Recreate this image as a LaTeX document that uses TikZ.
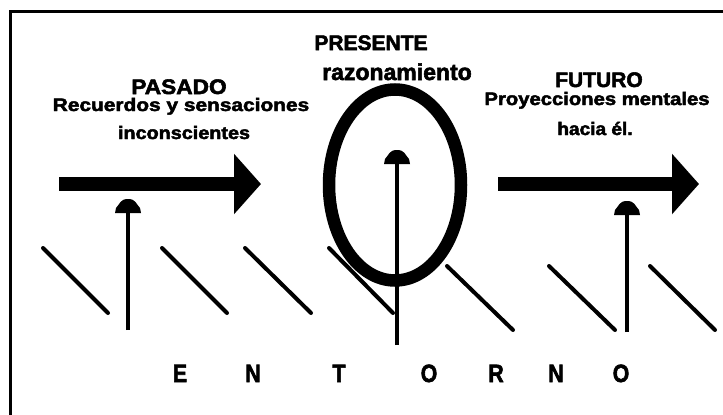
\documentclass[tikz,border=0pt]{standalone}
\usepackage{fontspec}
\setmainfont{Liberation Sans}[BoldFeatures={FakeBold=2.5}]
\usetikzlibrary{shapes.geometric,arrows.meta}
\begin{document}
\begin{tikzpicture}[x=1pt,y=-1pt,
  head/.style={font=\bfseries\fontsize{21}{21}\selectfont, inner sep=0, anchor=base},
  sub/.style={font=\bfseries\fontsize{18}{18}\selectfont, inner sep=0, anchor=base},
  ent/.style={font=\bfseries\fontsize{25}{25}\selectfont, inner sep=0, anchor=base},
  bigarrow/.style={line width=14pt, -{Triangle[length=27pt,width=59pt]}},
  uparrow/.style={line width=4.5pt},
  hatch/.style={line width=4pt, line cap=round},
  frameline/.style={line width=3pt},
  domehead/.pic={\fill (-13,0) -- (-12,-5) .. controls (-8,-9) and (-8,-14) .. (0,-14)
                   .. controls (8,-14) and (8,-9) .. (12,-5) -- (13,0) -- cycle;}]
\useasboundingbox (0,0) rectangle (723,415);
\fill[white] (0,0) rectangle (723,415);
% frame (top and left sides visible)
\draw[frameline] (10,415) -- (10,11) -- (723,11);

% hatching (entorno)
\coordinate (h1a) at (43,248);  \coordinate (h1b) at (108,313);
\coordinate (h2a) at (162,248); \coordinate (h2b) at (227,313);
\coordinate (h3a) at (245,248); \coordinate (h3b) at (311,313);
\coordinate (h4a) at (329,248); \coordinate (h4b) at (393,313);
\coordinate (h5a) at (447,266); \coordinate (h5b) at (513,330);
\coordinate (h6a) at (549,266); \coordinate (h6b) at (615,330);
\coordinate (h7a) at (650,266); \coordinate (h7b) at (715,330);
\foreach \i in {1,...,7} \draw[hatch] (h\i a) -- (h\i b);

% presente ellipse
\node[ellipse, draw, line width=12.5pt, minimum width=132pt, minimum height=191pt, inner sep=0] (pres) at (395,185) {};

% big arrows
\coordinate (pS) at (59,184);  \coordinate (pE) at (261,184);
\coordinate (fS) at (498,184); \coordinate (fE) at (699,184);
\draw[bigarrow] (pS) -- (pE);
\draw[bigarrow] (fS) -- (fE);

% upward arrows
\coordinate (u1b) at (128,330); \coordinate (u1t) at (128,213);
\coordinate (u2b) at (397,345); \coordinate (u2t) at (397,164);
\coordinate (u3b) at (627,332); \coordinate (u3t) at (627,215);
\foreach \i in {1,2,3} {
  \draw[uparrow] (u\i b) -- ([yshift=2pt]u\i t);
  \pic at (u\i t) {domehead};
}

% texts
\node[head] (pasado) at (179,94) {\scalebox{1.08}[1]{PASADO}};
\node[sub] (rec) at (181,111) {\scalebox{1.16}[1]{Recuerdos y sensaciones}};
\node[sub] (inc) at (184,139) {\scalebox{1.10}[1]{inconscientes}};

\node[head] (presente) at (371,50) {PRESENTE};
\node[font=\bfseries\fontsize{23}{23}\selectfont, inner sep=0, anchor=base] (raz) at (397,80) {razonamiento};

\node[head] (futuro) at (599,87) {FUTURO};
\node[sub] (proy) at (597,105) {\scalebox{1.125}[1]{Proyecciones mentales}};
\node[sub] (hacia) at (595,135) {\scalebox{1.06}[1]{hacia él.}};

% ENTORNO
\node[ent] (e1) at (180,382) {\scalebox{0.85}[1]{E}};
\node[ent] (e2) at (253,382) {\scalebox{0.85}[1]{N}};
\node[ent] (e3) at (339,382) {\scalebox{0.85}[1]{T}};
\node[ent] (e4) at (429,382) {\scalebox{0.85}[1]{O}};
\node[ent] (e5) at (496,382) {\scalebox{0.85}[1]{R}};
\node[ent] (e6) at (556,382) {\scalebox{0.85}[1]{N}};
\node[ent] (e7) at (621,382) {\scalebox{0.85}[1]{O}};
\end{tikzpicture}
\end{document}
